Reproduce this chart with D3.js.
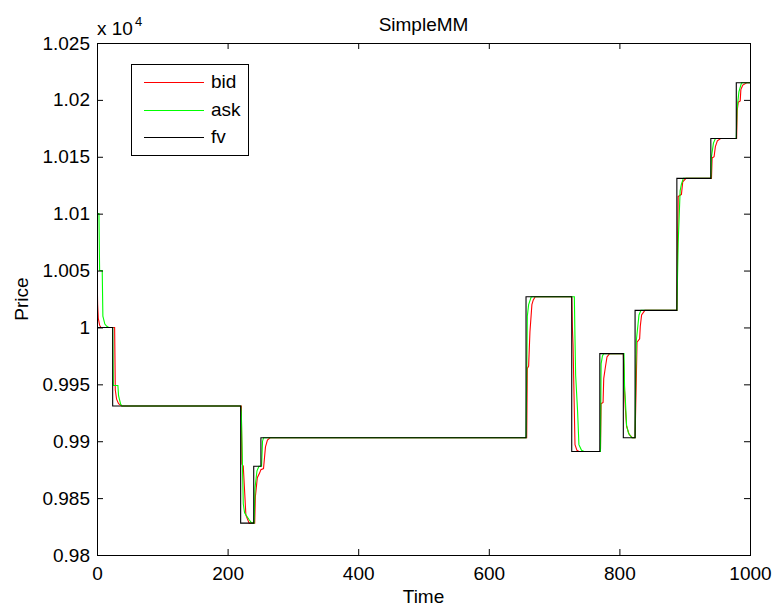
<!DOCTYPE html>
<html>
<head>
<meta charset="utf-8">
<script src="https://cdn.jsdelivr.net/npm/d3@7"></script>
<style>
  html, body { margin: 0; padding: 0; background: #fff; }
  svg { display: block; }
  text { font-family: "Liberation Sans", Arial, Helvetica, sans-serif; fill: #000; }
</style>
</head>
<body>
<svg id="chart" width="775" height="606"></svg>
<script>
// Axis ticks
const xTicks = [0, 200, 400, 600, 800, 1000];
const yTicks = [9800, 9850, 9900, 9950, 10000, 10050, 10100, 10150, 10200, 10250];

// Legend entries, in plotting order
const seriesNames = ["bid", "ask", "fv"];
const seriesColors = ["#ff0000", "#00ff00", "#000000"];

// Fair value: [time, price] at each change (held until the next one)
const fv = [
  [0, 10000], [24, 9931], [220, 9828], [240, 9878], [251, 9903],
  [657, 10027], [727, 9891], [770, 9977], [806, 9903], [824, 10015],
  [888, 10131], [940, 10166], [979, 10215], [1000, 10215]
];

// Quoted bid: [time, price]
const bid = [
  [0, 10050], [1, 10020], [2, 10008], [4, 10002], [6, 10000],
  [27, 10000], [28, 9945], [30, 9937], [33, 9933], [38, 9931],
  [221, 9931], [222, 9880], [224, 9878], [228, 9835], [233, 9828],
  [241.5, 9828], [242.5, 9851], [245.5, 9868], [249, 9872], [251, 9875], [255, 9876], [258, 9895], [261, 9901], [265, 9903],
  [658, 9903], [659, 9964], [661, 9966], [663, 9996], [666, 10020], [668, 10024], [671, 10027],
  [727, 10027], [728, 10000], [729, 9985], [732, 9897], [735, 9892], [738, 9891],
  [771, 9891], [772, 9933], [775, 9934], [776, 9955], [778, 9963], [781, 9974], [785, 9977],
  [806, 9977], [807, 9960], [809, 9930], [811, 9913], [815, 9906], [820, 9903],
  [824, 9903], [826, 9958], [827, 9987], [831, 9990], [832, 10001], [834, 10011], [839, 10015],
  [888, 10015], [889, 10070], [890, 10115], [895, 10117], [897, 10128], [902, 10131],
  [941, 10131], [942, 10149], [945, 10150], [947, 10159], [950, 10164], [955, 10166],
  [979.5, 10166], [980.5, 10191], [982, 10198], [985, 10199], [986, 10209], [989, 10213], [995, 10215], [1000, 10215]
];

// Quoted ask: [time, price]
const ask = [
  [0, 10100], [3, 10100], [4, 10050], [8, 10050], [9, 10010], [12, 10003], [15, 10001], [18, 10000],
  [24, 10000], [25, 9949], [32, 9949], [33, 9940], [36, 9933], [38, 9931],
  [220, 9931], [221, 9925], [224, 9845], [226, 9837], [233, 9831], [237, 9828],
  [240.5, 9828], [242, 9859], [245, 9874], [248, 9878], [252, 9878], [253.5, 9900], [255, 9903],
  [657, 9903], [659, 10010], [661, 10020], [665, 10027],
  [731, 10027], [732, 9990], [733, 9958], [736, 9926], [738, 9897], [742, 9892], [746, 9891],
  [771, 9891], [772, 9968], [774, 9975], [776, 9977],
  [807, 9977], [808, 9945], [809, 9938], [811, 9914], [814, 9907], [819, 9903],
  [824, 9903], [825, 9960], [826, 9989], [830, 10011], [833, 10015],
  [888, 10015], [890, 10074], [893, 10120], [895, 10126], [898, 10131],
  [940, 10131], [941, 10150], [944, 10162], [947, 10166],
  [979, 10166], [980, 10191], [983, 10207], [987, 10215], [1000, 10215]
];

const svg = d3.select("#chart");
const W = 775, H = 606;
const plot = { left: 97, right: 750, top: 43, bottom: 555 };
const FONT = 19;

const x = d3.scaleLinear().domain([0, 1000]).range([plot.left, plot.right]);
const y = d3.scaleLinear().domain([9800, 10250]).range([plot.bottom, plot.top]);

svg.append("rect").attr("width", W).attr("height", H).attr("fill", "#fff");

// Clip series to the axes box
svg.append("defs").append("clipPath").attr("id", "plot-clip")
  .append("rect")
  .attr("x", plot.left).attr("y", plot.top)
  .attr("width", plot.right - plot.left).attr("height", plot.bottom - plot.top);

const lineLinear = d3.line().x(d => x(d[0])).y(d => y(d[1]));
const lineStep = d3.line().x(d => x(d[0])).y(d => y(d[1])).curve(d3.curveStepAfter);

const series = svg.append("g").attr("clip-path", "url(#plot-clip)").attr("fill", "none");
series.append("path").attr("d", lineLinear(bid)).attr("stroke", seriesColors[0]).attr("stroke-width", 1.1);
series.append("path").attr("d", lineLinear(ask)).attr("stroke", seriesColors[1]).attr("stroke-width", 1.1);
series.append("path").attr("d", lineStep(fv)).attr("stroke", seriesColors[2]).attr("stroke-width", 1.1);

// Axes with inward ticks on all four sides
const TICK = 6;
const yFmt = d => String(+(d / 1e4).toFixed(4));

const gBottom = svg.append("g").attr("transform", `translate(0,${plot.bottom})`)
  .call(d3.axisBottom(x).tickValues(xTicks).tickSizeInner(-TICK).tickSizeOuter(0).tickPadding(12).tickFormat(d3.format("d")));
const gTop = svg.append("g").attr("transform", `translate(0,${plot.top})`)
  .call(d3.axisTop(x).tickValues(xTicks).tickSizeInner(-TICK).tickSizeOuter(0).tickFormat(""));
const gLeft = svg.append("g").attr("transform", `translate(${plot.left},0)`)
  .call(d3.axisLeft(y).tickValues(yTicks).tickSizeInner(-TICK).tickSizeOuter(0).tickPadding(7).tickFormat(yFmt));
const gRight = svg.append("g").attr("transform", `translate(${plot.right},0)`)
  .call(d3.axisRight(y).tickValues(yTicks).tickSizeInner(-TICK).tickSizeOuter(0).tickFormat(""));

[gBottom, gTop, gLeft, gRight].forEach(g => {
  g.select(".domain").remove();
  g.selectAll(".tick line").attr("stroke", "#000").attr("stroke-width", 1);
  g.selectAll(".tick text").attr("font-size", FONT).attr("font-family", null).attr("fill", "#000");
});

// Axes box
svg.append("rect")
  .attr("x", plot.left + 0.5).attr("y", plot.top + 0.5)
  .attr("width", plot.right - plot.left).attr("height", plot.bottom - plot.top)
  .attr("fill", "none").attr("stroke", "#000").attr("stroke-width", 1);

// Exponent label above the y axis
const expo = svg.append("text").attr("x", plot.left).attr("y", 35).attr("font-size", FONT);
expo.append("tspan").text("x 10");
expo.append("tspan").attr("font-size", 13).attr("dy", -9).attr("dx", 2).text("4");

// Title and axis labels
svg.append("text").attr("x", (plot.left + plot.right) / 2).attr("y", 31)
  .attr("text-anchor", "middle").attr("font-size", FONT).text("SimpleMM");
svg.append("text").attr("x", (plot.left + plot.right) / 2).attr("y", 603)
  .attr("text-anchor", "middle").attr("font-size", FONT).text("Time");
svg.append("text")
  .attr("transform", `translate(28,${(plot.top + plot.bottom) / 2}) rotate(-90)`)
  .attr("text-anchor", "middle").attr("font-size", FONT).text("Price");

// Legend
const leg = { x: 131, y: 64, w: 117, h: 91 };
const legend = svg.append("g");
legend.append("rect")
  .attr("x", leg.x + 0.5).attr("y", leg.y + 0.5).attr("width", leg.w).attr("height", leg.h)
  .attr("fill", "#fff").attr("stroke", "#000").attr("stroke-width", 1);
const rowY = d3.scalePoint().domain(seriesNames).range([leg.y + 18, leg.y + 73]);
seriesNames.forEach((name, i) => {
  const ly = Math.round(rowY(name)) + 0.5;
  legend.append("line")
    .attr("x1", leg.x + 13).attr("x2", leg.x + 73)
    .attr("y1", ly).attr("y2", ly)
    .attr("stroke", seriesColors[i]).attr("stroke-width", 1);
  legend.append("text")
    .attr("x", leg.x + 80).attr("y", Math.round(rowY(name)) + 6)
    .attr("font-size", FONT).text(name);
});
</script>
</body>
</html>
